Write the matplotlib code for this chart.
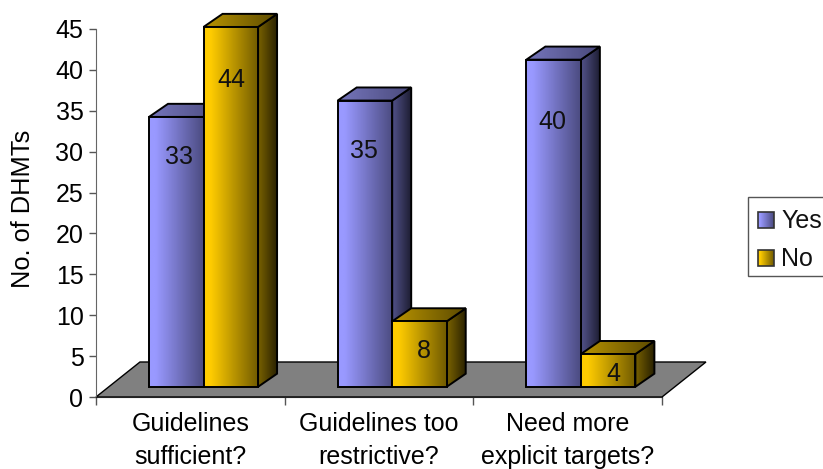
import matplotlib
matplotlib.use("Agg")
import matplotlib.pyplot as plt
import numpy as np
from matplotlib.colors import LinearSegmentedColormap
from matplotlib.patches import Polygon, Rectangle

categories = ["Guidelines\nsufficient?", "Guidelines too\nrestrictive?", "Need more\nexplicit targets?"]
yes_values = [33, 35, 40]
no_values = [44, 8, 4]
y_ticks = list(range(0, 50, 5))

# bar geometry, x in category widths, y in axis units
BAR_W = 0.289
BAR_START = 0.281
FLOOR_Y = 1.25
DEPTH_X = 0.1007
DEPTH_Y = 1.6

# (front, top, side) gradients
YES_SHADES = [("#9999ff", "#4b4b80"), ("#7070b4", "#4a4a7c"), ("#4c4c80", "#1e1e33")]
NO_SHADES = [("#ffcc00", "#705a00"), ("#ae8b00", "#5c4a00"), ("#705a00", "#2a2200")]

# nudges for the value labels: x in category widths, drop below bar top in axis units
label_dx = {"yes": [0.012, -0.005, -0.005], "no": [0.005, 0.026, 0.026]}
label_drop = {"yes": [4.9, 6.2, 7.6], "no": [6.5, 3.6, 2.4]}

plt.rcParams["font.family"] = ["Liberation Sans", "DejaVu Sans"]
plt.rcParams["font.size"] = 18

W, H = 823, 469
fig = plt.figure(figsize=(W / 100, H / 100), dpi=100)
ax = fig.add_axes([96 / W, 1 - 397 / H, (662 - 96) / W, (397 - 29) / H])
ax.set_facecolor("none")


def ramp(c0, c1):
    # holds the light colour a little before fading to the dark one
    return LinearSegmentedColormap.from_list("g", [(0, c0), (0.12, c0), (1, c1)])


def shaded(axis, pts, c0, c1, zorder):
    # polygon filled with a left-to-right gradient
    xs = [p[0] for p in pts]
    ys = [p[1] for p in pts]
    img = axis.imshow(np.linspace(0, 1, 128).reshape(1, -1), cmap=ramp(c0, c1), aspect="auto",
                      extent=[min(xs), max(xs), min(ys), max(ys)], zorder=zorder)
    poly = Polygon(pts, closed=True, transform=axis.transData, fc="none", ec="black", lw=1.4,
                   zorder=zorder + 0.1, clip_on=False, joinstyle="miter")
    axis.add_patch(poly)
    img.set_clip_path(poly)
    # the tallest bar pokes out above the axes, so don't cut images at the axes box
    img.set_clip_box(fig.bbox)


def bar3d(x, value, shades, z):
    top = FLOOR_Y + value
    r = x + BAR_W
    side = [(r, FLOOR_Y), (r + DEPTH_X, FLOOR_Y + DEPTH_Y), (r + DEPTH_X, top + DEPTH_Y), (r, top)]
    roof = [(x, top), (r, top), (r + DEPTH_X, top + DEPTH_Y), (x + DEPTH_X, top + DEPTH_Y)]
    front = [(x, FLOOR_Y), (r, FLOOR_Y), (r, top), (x, top)]
    shaded(ax, side, *shades[2], z)
    shaded(ax, roof, *shades[1], z + 0.2)
    shaded(ax, front, *shades[0], z + 0.4)


# grey floor of the chart
floor = Polygon([(0, 0), (3, 0), (3.233, 4.28), (0.233, 4.28)], closed=True,
                fc="#808080", ec="black", lw=1, zorder=1, clip_on=False)
ax.add_patch(floor)

for i in range(len(categories)):
    x_yes = i + BAR_START
    x_no = x_yes + BAR_W
    bar3d(x_yes, yes_values[i], YES_SHADES, 2 + i)
    bar3d(x_no, no_values[i], NO_SHADES, 2.5 + i)
    ax.text(x_yes + BAR_W / 2 + label_dx["yes"][i], FLOOR_Y + yes_values[i] - label_drop["yes"][i],
            str(yes_values[i]), ha="center", va="center", zorder=10, color="#111111")
    ax.text(x_no + BAR_W / 2 + label_dx["no"][i], FLOOR_Y + no_values[i] - label_drop["no"][i],
            str(no_values[i]), ha="center", va="center", zorder=10, color="#111111")

ax.set_xlim(0, 3)
ax.set_ylim(0, 45)
ax.set_yticks(y_ticks)
ax.set_xticks([0, 1, 2, 3])
ax.set_xticklabels([])
ax.set_xticks([0.5, 1.5, 2.5], categories, minor=True)
ax.tick_params(axis="x", which="minor", length=0, pad=11)
ax.tick_params(axis="x", which="major", length=6, width=1, color="#555555")
ax.tick_params(axis="y", length=5, width=1, color="#555555", pad=4)
for lab in ax.get_xticklabels(minor=True):
    lab.set_linespacing(1.45)
ax.spines["top"].set_visible(False)
ax.spines["right"].set_visible(False)
ax.spines["left"].set_color("#666666")
ax.spines["bottom"].set_color("#222222")
ax.set_ylabel("No. of DHMTs", fontsize=18.3)
ax.yaxis.set_label_coords(-61 / 566, 0.51)

# legend with gradient swatches, laid out in pixels
lg = fig.add_axes([0, 0, 1, 1], facecolor="none")
lg.set_xlim(0, W)
lg.set_ylim(H, 0)
lg.axis("off")
lg.add_patch(Rectangle((748, 197), 80, 79, fc="white", ec="#555555", lw=1))
for name, shades, y0 in [("Yes", YES_SHADES, 212), ("No", NO_SHADES, 250)]:
    lg.imshow(np.linspace(0, 1, 64).reshape(1, -1), cmap=ramp(*shades[0]), aspect="auto",
              extent=[758, 774, y0 + 16, y0], zorder=3)
    lg.add_patch(Rectangle((758, y0), 16, 16, fc="none", ec="#333333", lw=1.2, zorder=4))
    lg.text(781, y0 + 9, name, va="center", ha="left", color="#111111", zorder=4)
lg.set_xlim(0, W)
lg.set_ylim(H, 0)

fig.savefig("out.png", dpi=100, facecolor="white")
